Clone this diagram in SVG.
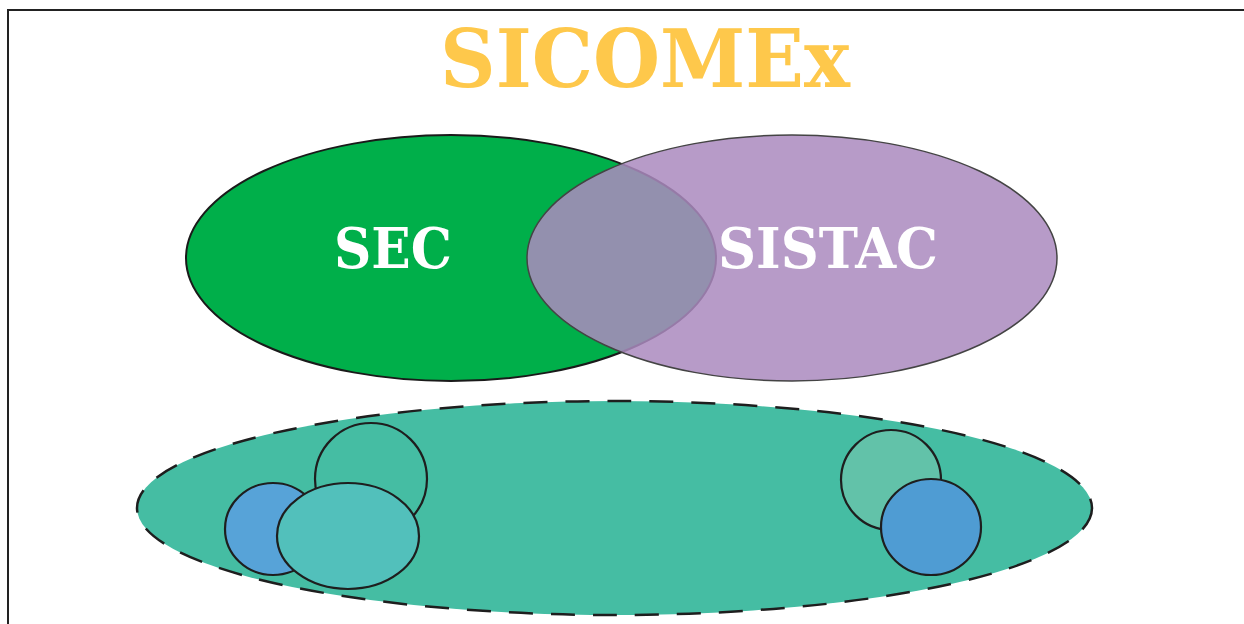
<svg xmlns="http://www.w3.org/2000/svg" width="1244" height="624" viewBox="0 0 1244 624">
<style>
.lbl{font-family:"DejaVu Serif","Liberation Serif",serif;font-weight:bold;text-anchor:middle}
.sm{stroke:#1e1e1e;stroke-width:2.2}
</style>
<rect x="0" y="0" width="1244" height="624" fill="#ffffff"/>
<rect id="frame" x="8" y="10" width="1242" height="620" fill="none" stroke="#222222" stroke-width="2"/>
<g id="title"><text class="lbl" x="645" y="87" font-size="80" fill="#fec84b" textLength="410" lengthAdjust="spacingAndGlyphs">SICOMEx</text></g>
<g id="sec"><ellipse cx="451" cy="258" rx="265" ry="123" fill="#00af4a" stroke="#1a1a1a" stroke-width="2"/></g>
<g id="sistac"><ellipse cx="792" cy="258" rx="265" ry="123" fill="#ab8bbf" fill-opacity="0.86" stroke="#444444" stroke-width="1.5"/></g>
<g id="sec-label"><text class="lbl" x="393" y="268" font-size="56" fill="#ffffff" textLength="118" lengthAdjust="spacingAndGlyphs">SEC</text></g>
<g id="sistac-label"><text class="lbl" x="828" y="268" font-size="56" fill="#ffffff" textLength="220" lengthAdjust="spacingAndGlyphs">SISTAC</text></g>
<g id="base"><ellipse cx="614.5" cy="508" rx="477.5" ry="107" fill="#45bda3" stroke="#1e1e1e" stroke-width="2.5" stroke-dasharray="24 18"/></g>
<g id="c1"><circle cx="371" cy="479" r="56" fill="#45bda3" class="sm"/></g>
<g id="c2"><ellipse cx="273" cy="529" rx="48" ry="46" fill="#57a3d8" class="sm"/></g>
<g id="c3"><ellipse cx="348" cy="536" rx="71" ry="53" fill="#52c0bb" class="sm"/></g>
<g id="c4"><circle cx="891" cy="480" r="50" fill="#62c2a9" class="sm"/></g>
<g id="c5"><ellipse cx="931" cy="527" rx="50" ry="48" fill="#4f9cd3" class="sm"/></g>
<g id="connectors"/>
</svg>
